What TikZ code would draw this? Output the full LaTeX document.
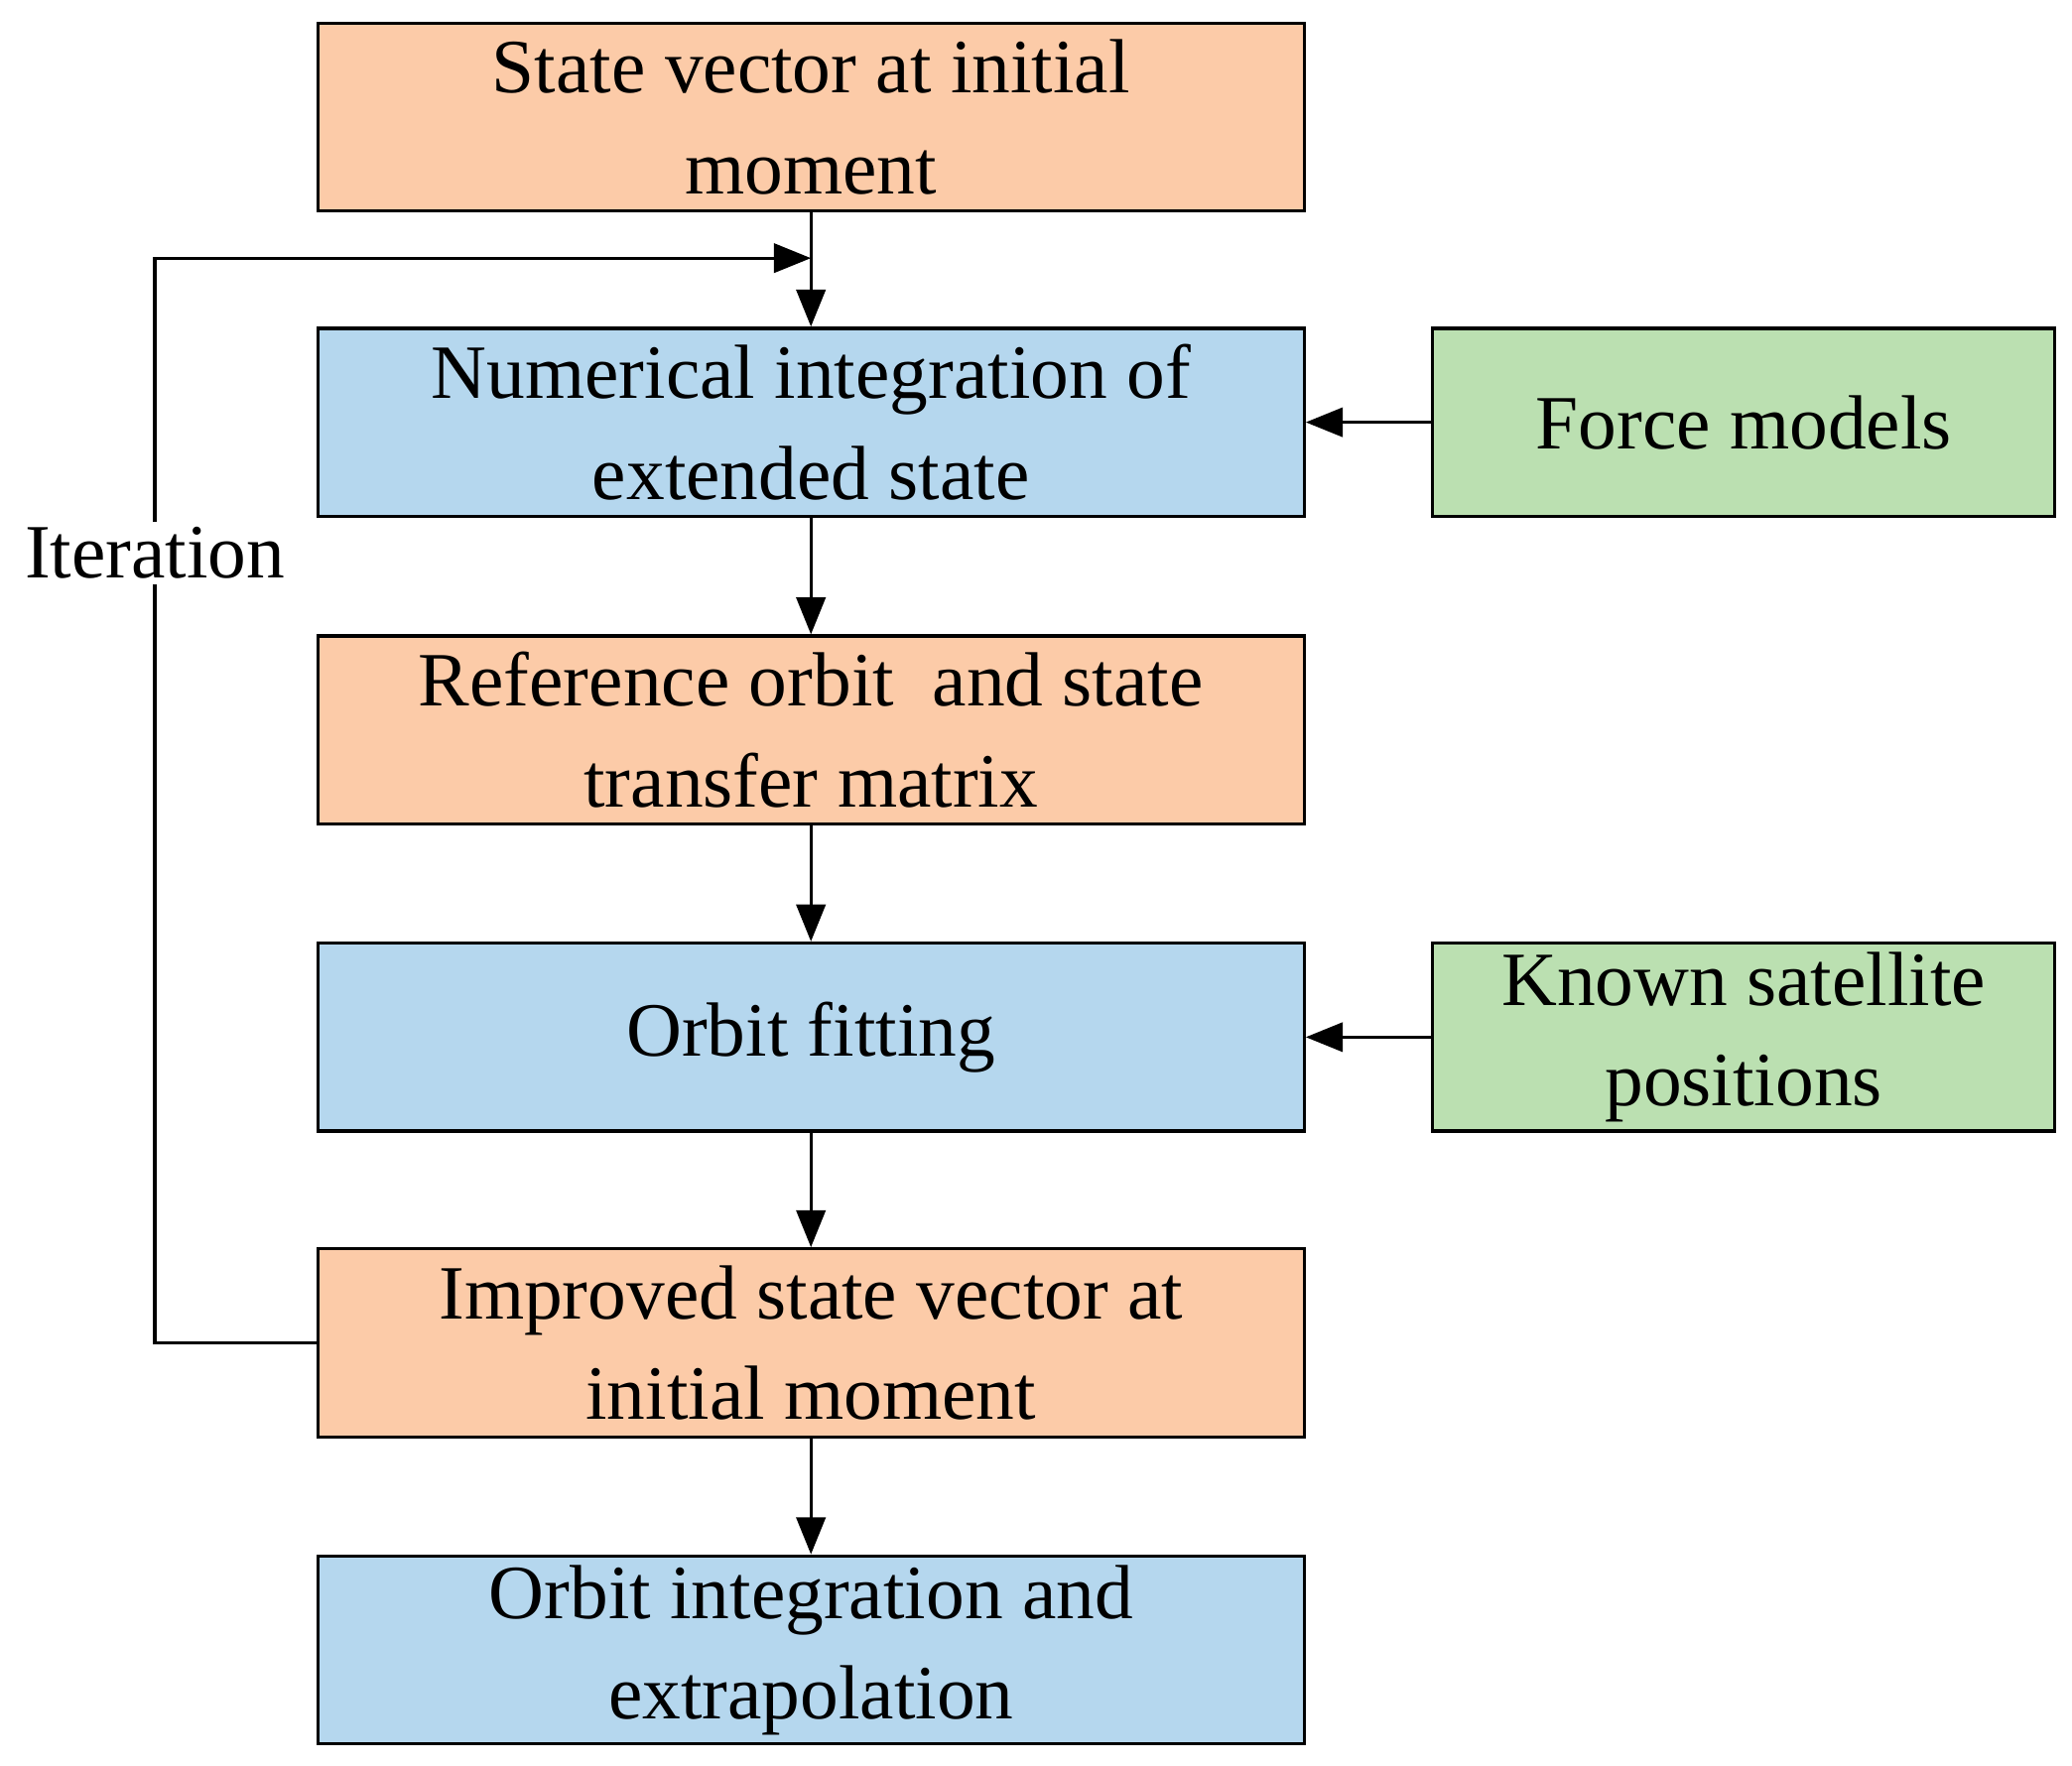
\documentclass[tikz,border=0pt]{standalone}
\usepackage{fontspec}
\setmainfont{Liberation Serif}
\usetikzlibrary{arrows.meta}
\definecolor{or}{HTML}{FCCBA8}
\definecolor{bl}{HTML}{B5D7EE}
\definecolor{gr}{HTML}{BBE0B1}
\begin{document}
\begin{tikzpicture}[x=1pt,y=-1pt,
  box/.style={draw,line width=2.5pt,minimum width=745pt,minimum height=142pt,align=center,inner sep=0pt,font=\fontsize{58}{76}\selectfont},
  side/.style={box,minimum width=470pt},
  arr/.style={line width=2.5pt,-{Triangle[length=28pt,width=22pt]}}]
\useasboundingbox (0,0) rectangle (1565,1334);
\node[box,fill=or] (a) at (612.5,88.5) {State vector at initial\\moment};
\node[box,fill=bl] (b) at (612.5,319) {Numerical integration of\\extended state};
\node[box,fill=or] (c) at (612.5,551.5) {Reference orbit~ and state\\transfer matrix};
\node[box,fill=bl] (d) at (612.5,783.5) {Orbit fitting};
\node[box,fill=or] (e) at (612.5,1014.5) {Improved state vector at\\initial moment};
\node[box,fill=bl] (f) at (612.5,1246.5) {Orbit integration and\\extrapolation};
\node[side,fill=gr] (g) at (1317,319) {Force models};
\node[side,fill=gr] (h) at (1317,783.5) {Known satellite\\positions};
\coordinate (l1) at (117,1014.5);
\coordinate (l2) at (117,195);
\coordinate (l3) at (612.5,195);
\draw[arr] (a) -- (b);
\draw[arr] (b) -- (c);
\draw[arr] (c) -- (d);
\draw[arr] (d) -- (e);
\draw[arr] (e) -- (f);
\draw[arr] (g) -- (b);
\draw[arr] (h) -- (d);
\draw[arr] (e.west) -- (l1) -- (l2) -- (l3);
\node[fill=white,inner sep=4pt,font=\fontsize{58}{76}\selectfont] (it) at (117,418) {Iteration};
\end{tikzpicture}
\end{document}
